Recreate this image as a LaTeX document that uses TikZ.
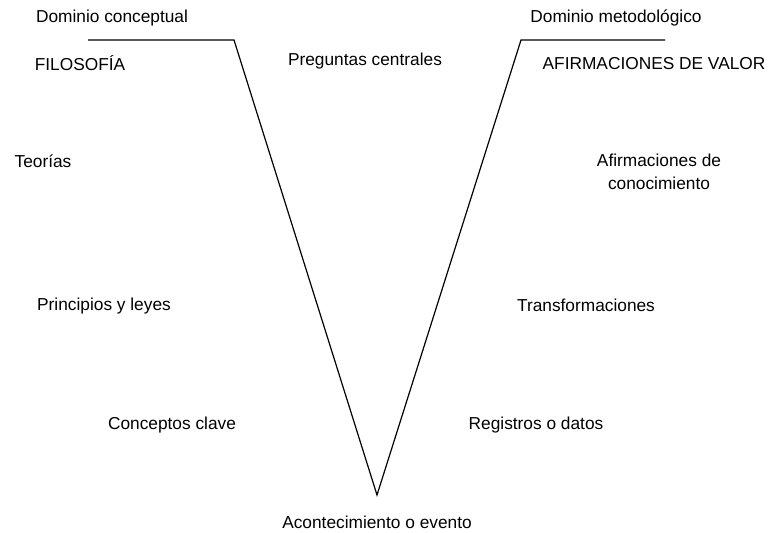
\documentclass[tikz,border=0pt]{standalone}
\usepackage{fontspec}
\setmainfont{Liberation Sans}
\begin{document}
\begin{tikzpicture}[x=1pt,y=-1pt,every node/.style={font=\fontsize{17.3}{23}\selectfont,inner sep=0pt,align=center}]
\useasboundingbox (0,0) rectangle (769,533);
% la V
\coordinate (la) at (88,40);
\coordinate (lb) at (234,40);
\coordinate (v) at (377,495);
\coordinate (rb) at (521,40);
\coordinate (ra) at (665,40);
\draw[line width=1.2pt] (la) -- (lb) -- (v) -- (rb) -- (ra);
% lado conceptual
\foreach \n/\x/\y/\t in {dc/112/18/Dominio conceptual, fil/80/63/FILOSOFÍA,
    teo/43/161/Teorías, pri/104/306/Principios y leyes, con/172/425/Conceptos clave}
  \node (\n) at (\x,\y) {\t};
% lado metodologico
\foreach \n/\x/\y/\t in {dm/616/18/Dominio metodológico, afv/654/64/AFIRMACIONES DE VALOR,
    tra/586/305/Transformaciones, reg/536/425/Registros o datos}
  \node (\n) at (\x,\y) {\t};
\node (afc) at (659,172) {Afirmaciones de\\conocimiento};
\node (pre) at (365,61) {Preguntas centrales};
\node (ev) at (377,522) {Acontecimiento o evento};
\end{tikzpicture}
\end{document}
